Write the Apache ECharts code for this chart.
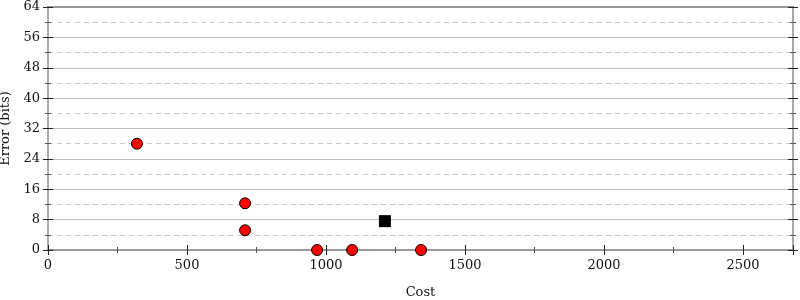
<!DOCTYPE html>
<html><head><meta charset="utf-8">
<script src="https://cdn.jsdelivr.net/npm/echarts@6/dist/echarts.min.js"></script>
<style>html,body{margin:0;padding:0;background:#fff}#c{width:800px;height:300px}</style>
</head><body><div id="c"></div>
<script>
const otherCost = [320, 709, 709, 968, 1094, 1342];
const otherError = [28, 12.3, 5.2, 0, 0, 0];
const bestCost = [1212];
const bestError = [7.6];
const xTicks = [0, 500, 1000, 1500, 2000, 2500];
const yTicks = [0, 8, 16, 24, 32, 40, 48, 56, 64];

const F = 'DejaVu Serif';
const XMAX = 2680;
const chart = echarts.init(document.getElementById('c'));
function yax(pos, inside, labels) {
  return {
    type: 'value', min: 0, max: 64, interval: 8, position: pos,
    axisLine: {show: true, onZero: false, lineStyle: {color: '#aaa', width: 2}},
    axisTick: {show: true, inside: inside, length: 5, lineStyle: {color: '#222', width: 1}},
    minorTick: {show: true, splitNumber: 2, length: 3, lineStyle: {color: '#555'}},
    axisLabel: {show: labels, fontFamily: F, fontSize: 13, color: '#111', margin: 8,
      formatter: v => yTicks.includes(v) ? String(v) : ''},
    splitLine: {show: labels, lineStyle: {color: '#bbb', width: 1}},
    minorSplitLine: {show: labels, lineStyle: {color: '#ccc', type: [5, 4]}},
    name: labels ? 'Error (bits)' : '', nameLocation: 'middle', nameGap: 30,
    nameTextStyle: {fontFamily: F, fontSize: 13, color: '#111'}
  };
}
function xax(pos, inside, labels, ticks) {
  return {
    type: 'value', min: 0, max: XMAX, interval: 500, position: pos,
    axisLine: {show: true, onZero: false, lineStyle: {color: '#999', width: 2}},
    axisTick: {show: ticks, inside: inside, length: 5, lineStyle: {color: '#222', width: 1}},
    minorTick: {show: ticks, splitNumber: 2, length: 3, lineStyle: {color: '#555'}},
    axisLabel: {show: labels, fontFamily: F, fontSize: 13, color: '#111', margin: 9,
      formatter: v => xTicks.includes(v) ? String(v) : ''},
    splitLine: {show: false},
    name: labels ? 'Cost' : '', nameLocation: 'middle', nameGap: 36,
    nameTextStyle: {fontFamily: F, fontSize: 13, color: '#111'}
  };
}
chart.setOption({
  animation: false,
  grid: {left: 48, right: 7, top: 7, bottom: 50, containLabel: false, outerBoundsMode: 'none'},
  xAxis: [xax('bottom', false, true, true), xax('bottom', true, false, true), xax('top', false, false, false)],
  yAxis: [yax('left', false, true), yax('left', true, false), yax('right', false, false), yax('right', true, false)],
  series: [
    {type: 'scatter', name: 'other', xAxisIndex: 0, yAxisIndex: 0, symbol: 'circle', symbolSize: 11,
      itemStyle: {color: '#ff0000', borderColor: '#000', borderWidth: 1, opacity: 1},
      data: otherCost.map((c, i) => [c, otherError[i]]), clip: false, z: 5},
    {type: 'scatter', name: 'best', xAxisIndex: 0, yAxisIndex: 0, symbol: 'rect', symbolSize: 12,
      itemStyle: {color: '#000', opacity: 1},
      data: bestCost.map((c, i) => [c, bestError[i]]), clip: false, z: 5}
  ]
});
</script></body></html>
